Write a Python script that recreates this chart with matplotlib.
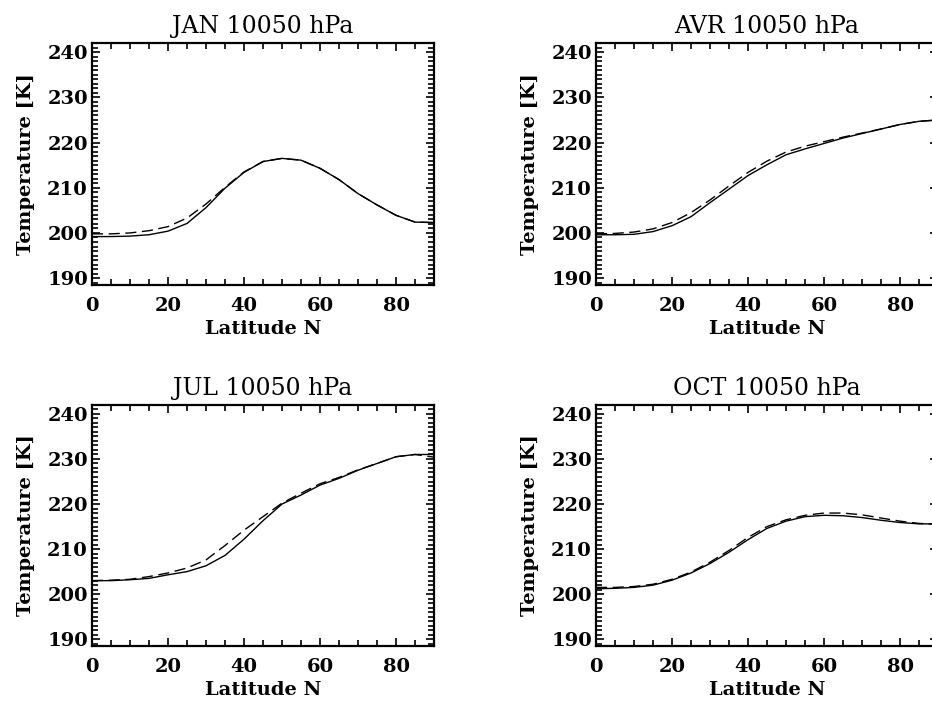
import numpy as np
import matplotlib
matplotlib.use("Agg")
import matplotlib.pyplot as plt
from matplotlib.ticker import MultipleLocator

# latitude grid (deg N)
lat = [0, 5, 10, 15, 20, 25, 30, 35, 40, 45, 50, 55, 60, 65, 70, 75, 80, 85, 90]

# temperatures [K], solid = model, dashed = reference
jan_solid = [199.2, 199.2, 199.3, 199.6, 200.4, 202.1, 205.6, 209.9, 213.4, 215.8, 216.5,
             216.1, 214.3, 211.8, 208.7, 206.2, 203.9, 202.4, 202.3]
jan_dash = [199.8, 199.8, 200.0, 200.5, 201.4, 203.3, 206.4, 210.1, 213.5, 215.8, 216.5,
            216.1, 214.3, 211.8, 208.7, 206.2, 203.9, 202.4, 202.3]

avr_solid = [199.6, 199.6, 199.7, 200.3, 201.6, 203.6, 206.7, 209.7, 212.7, 215.1, 217.3,
             218.6, 219.8, 221.0, 222.0, 223.0, 224.0, 224.7, 225.0]
avr_dash = [199.8, 199.9, 200.2, 200.9, 202.3, 204.5, 207.3, 210.4, 213.4, 215.9, 217.9,
            219.2, 220.2, 221.2, 222.1, 223.0, 224.0, 224.7, 225.0]

jul_solid = [203.0, 203.0, 203.2, 203.5, 204.3, 205.0, 206.3, 208.6, 212.2, 216.3, 220.0,
             222.0, 224.2, 225.7, 227.5, 229.0, 230.5, 231.0, 231.0]
jul_dash = [203.0, 203.1, 203.3, 203.9, 204.7, 205.8, 207.6, 210.8, 214.2, 217.2, 220.2,
            222.4, 224.5, 225.9, 227.6, 229.0, 230.5, 231.0, 230.4]

oct_solid = [201.2, 201.3, 201.5, 202.0, 203.1, 204.7, 206.8, 209.3, 212.1, 214.6, 216.2,
             217.2, 217.5, 217.4, 217.0, 216.4, 215.9, 215.6, 215.6]
oct_dash = [201.5, 201.5, 201.7, 202.2, 203.3, 204.9, 207.1, 209.7, 212.6, 215.0, 216.5,
            217.5, 218.0, 218.0, 217.6, 216.9, 216.2, 215.7, 215.5]

panels = [
    ("JAN 10050 hPa", jan_solid, jan_dash, [0.0987, 0.597, 0.367, 0.342]),
    ("AVR 10050 hPa", avr_solid, avr_dash, [0.6395, 0.597, 0.367, 0.342]),
    ("JUL 10050 hPa", jul_solid, jul_dash, [0.0987, 0.0863, 0.367, 0.341]),
    ("OCT 10050 hPa", oct_solid, oct_dash, [0.6395, 0.0863, 0.367, 0.341]),
]

plt.rcParams["font.family"] = ["DejaVu Serif"]

fig = plt.figure(figsize=(9.32, 7.07), dpi=100)

for title, solid, dash, pos in panels:
    ax = fig.add_axes(pos)
    ax.plot(lat, solid, color="black", lw=1.0)
    ax.plot(lat, dash, color="black", lw=1.0, dashes=(8, 4))
    ax.set_xlim(0, 90)
    ax.set_ylim(188.5, 242)
    ax.xaxis.set_major_locator(MultipleLocator(20))
    ax.xaxis.set_minor_locator(MultipleLocator(5))
    ax.yaxis.set_major_locator(MultipleLocator(10))
    ax.yaxis.set_minor_locator(MultipleLocator(1))
    ax.tick_params(which="both", direction="in", top=True, right=True, width=1.2)
    ax.tick_params(which="major", length=6, labelsize=14)
    ax.tick_params(which="minor", length=4)
    ax.tick_params(axis="x", which="major", pad=9)
    ax.tick_params(axis="y", which="major", pad=3)
    for lab in ax.get_xticklabels() + ax.get_yticklabels():
        lab.set_fontweight("bold")
    for sp in ax.spines.values():
        sp.set_linewidth(1.6)
    ax.set_title(title, fontsize=17, pad=7)
    ax.set_xlabel("Latitude N", fontsize=14, fontweight="bold", labelpad=3)
    ax.set_ylabel("Temperature [K]", fontsize=14, fontweight="bold", labelpad=9)

fig.savefig("out.png", dpi=100)
